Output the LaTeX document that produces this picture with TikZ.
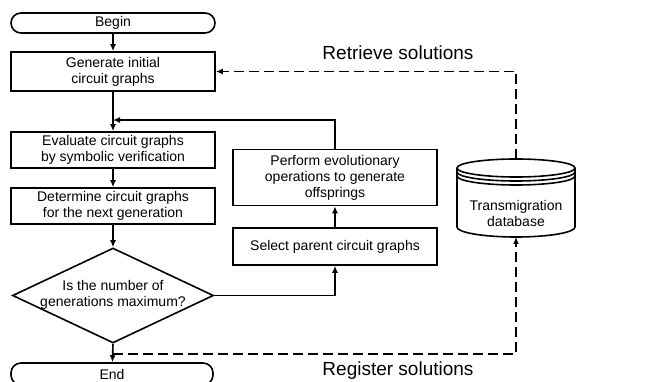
\documentclass[tikz,border=0pt]{standalone}
\usepackage{fontspec}
\setmainfont{Liberation Sans}
\usetikzlibrary{arrows.meta,shapes.geometric,calc}
\begin{document}
\begin{tikzpicture}[x=1pt,y=-1pt,
  line width=1.6pt,
  boxtxt/.style={font=\fontsize{14}{16}\selectfont, align=center, inner sep=1pt},
  procbox/.style={draw, rectangle, boxtxt},
  termbox/.style={draw, rectangle, rounded corners=10pt, boxtxt},
  decbox/.style={draw, diamond, inner sep=0pt},
  flow/.style={-{Latex[length=7pt,width=6pt]}},
  dflow/.style={-{Latex[length=7pt,width=6pt]}, dash pattern=on 10pt off 5pt},
  lbl/.style={font=\fontsize{19}{21}\selectfont}
]
\useasboundingbox (0,0) rectangle (651,382);

\node[termbox, minimum width=204pt, minimum height=20pt] (begin) at (113,23) {Begin};
\node[procbox, minimum width=204pt, minimum height=39pt] (gen) at (113,71.5) {Generate initial\\circuit graphs};
\node[procbox, minimum width=204pt, minimum height=36pt] (eval) at (113,150) {Evaluate circuit graphs\\by symbolic verification};
\node[procbox, minimum width=204pt, minimum height=36pt] (det) at (113,206) {Determine circuit graphs\\for the next generation};
\node[decbox, minimum width=201pt, minimum height=95pt] (dec) at (113,295.5) {};
\node[boxtxt] (dectxt) at (113,295) {Is the number of\\generations maximum?};
\node[termbox, minimum width=202pt, minimum height=22pt] (end) at (112,374) {End};

\node[procbox, minimum width=204pt, minimum height=37pt] (sel) at (335,246.5) {Select parent circuit graphs};
\node[procbox, minimum width=204pt, minimum height=56pt] (perf) at (335,177.5) {Perform evolutionary\\operations to generate\\offsprings};

% database cylinder
\draw (457,168) -- (457,227) arc[start angle=180,end angle=360,x radius=59pt,y radius=10pt] -- (575,168);
\draw (516,168) ellipse[x radius=59pt,y radius=9pt];
\draw (457,172) arc[start angle=180,end angle=360,x radius=59pt,y radius=9pt];
\draw (457,176) arc[start angle=180,end angle=360,x radius=59pt,y radius=9pt];
\node[boxtxt] (db) at (516,213) {Transmigration\\database};
\coordinate (dbtop) at (516,159);
\coordinate (dbbot) at (516,237);

\coordinate (join) at (113,120);
\coordinate (reg) at (113,354);

\draw[flow] (begin) -- (gen);
\draw[flow] (gen) -- (eval);
\draw[flow] (eval) -- (det);
\draw[flow] (det) -- (dec.north);
\draw[flow] (dec.south) -- (end);
\draw[flow] (dec.east) -| (sel.south);
\draw[flow] (sel) -- (perf);
\draw[flow] (perf.north) |- (join);

\draw[dflow] (dbtop) |- (gen.east);
\draw[dflow] (reg) -| (dbbot);

\node[lbl] (ret) at (398,53) {Retrieve solutions};
\node[lbl] (regl) at (398,371) {Register solutions};
\end{tikzpicture}
\end{document}
